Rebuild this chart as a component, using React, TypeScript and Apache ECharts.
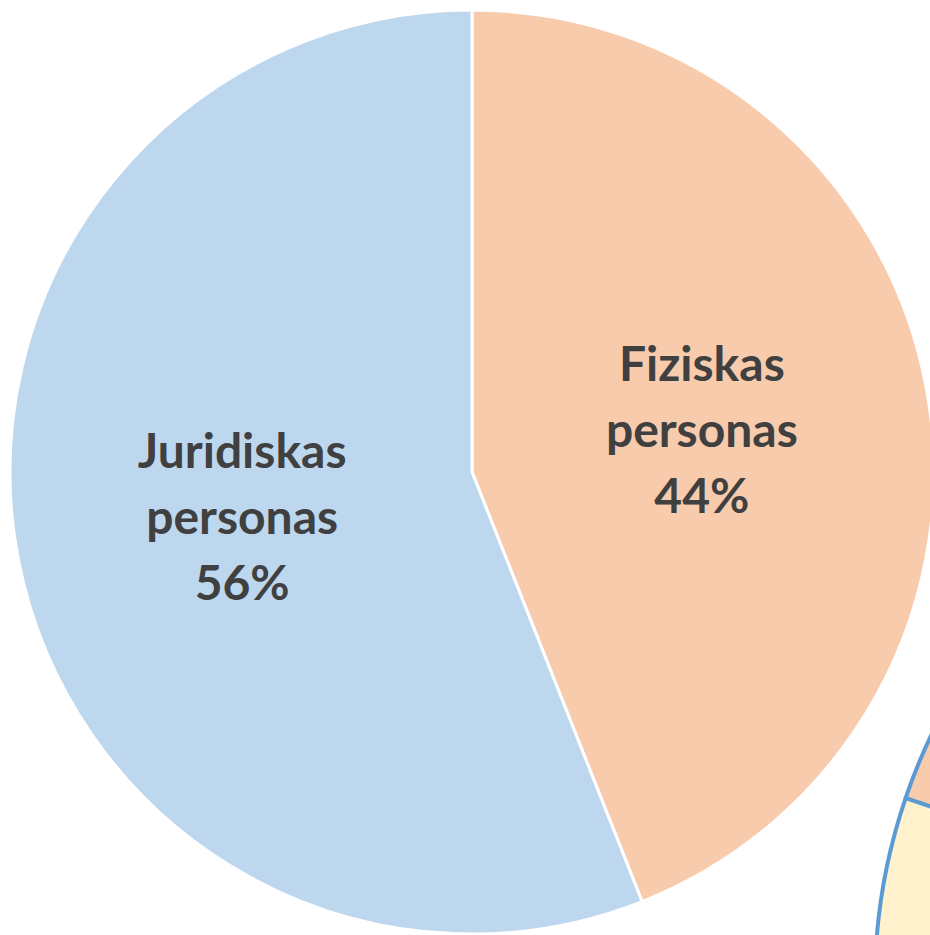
import React, { useEffect, useRef } from "react";
import * as echarts from "echarts";

const categories = ["Fiziskas personas", "Juridiskas personas"];
const values = [44, 56];
const colors = ["#F8CBAD", "#BDD7EE"];

const secondCategories = ["Fiziskas personas", "Juridiskas personas"];
const secondValues = [20, 80];
const secondColors = ["#F8CBAD", "#FFF2CC"];

export default function App() {
  const ref = useRef<HTMLDivElement>(null);
  useEffect(() => {
    if (!ref.current) return;
    const chart = echarts.init(ref.current, undefined, { renderer: "svg" });
    chart.setOption({
      animation: false,
      backgroundColor: "#FFFFFF",
      series: [
        {
          type: "pie",
          center: [472, 472],
          radius: [0, 462],
          startAngle: 90,
          clockwise: true,
          silent: true,
          itemStyle: { borderColor: "#FFFFFF", borderWidth: 3 },
          label: {
            show: true,
            position: "inside",
            formatter: (p: any) => `${p.name.replace(" ", "\n")}\n${p.percent.toFixed(0)}%`,
            fontFamily: "Lato",
            fontWeight: "bold",
            fontSize: 48,
            lineHeight: 66,
            color: "#404040",
          },
          labelLine: { show: false },
          data: categories.map((n, i) => ({ name: n, value: values[i], itemStyle: { color: colors[i] } })),
        },
        {
          type: "pie",
          center: [1449, 983],
          radius: [0, 574],
          startAngle: 161.2,
          clockwise: true,
          silent: true,
          itemStyle: { borderColor: "#5B9BD5", borderWidth: 4 },
          label: { show: false },
          labelLine: { show: false },
          data: secondCategories.map((n, i) => ({ name: n, value: secondValues[i], itemStyle: { color: secondColors[i] } })),
        },
      ],
    });
    return () => chart.dispose();
  }, []);
  return (
    <div
      ref={ref}
      style={{ position: "fixed", left: 0, top: 0, width: 930, height: 935 }}
    />
  );
}
